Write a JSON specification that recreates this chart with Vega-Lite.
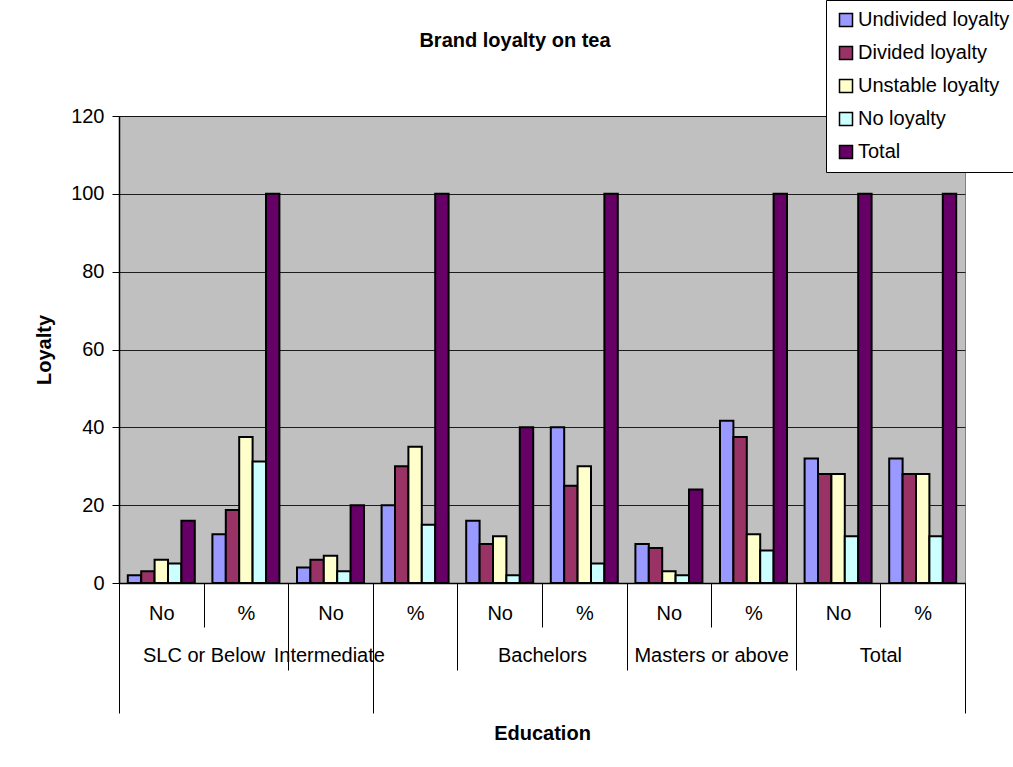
{
  "$schema": "https://vega.github.io/schema/vega-lite/v6.json",
  "width": 846,
  "height": 467,
  "autosize": {"type": "none"},
  "padding": {"left": 119, "top": 116, "right": 48, "bottom": 184},
  "background": "white",
  "title": {"text": "Brand loyalty on tea", "fontSize": 20, "fontWeight": "bold", "font": "Liberation Sans", "color": "#000", "anchor": "middle", "frame": "group", "dx": -27, "baseline": "alphabetic", "offset": -67},
  "data": {"values": [
    {"educ": "SLC or Below", "measure": "No", "grp": "SLC or Below|No", "series": "Undivided loyalty", "value": 2},
    {"educ": "SLC or Below", "measure": "No", "grp": "SLC or Below|No", "series": "Divided loyalty", "value": 3},
    {"educ": "SLC or Below", "measure": "No", "grp": "SLC or Below|No", "series": "Unstable loyalty", "value": 6},
    {"educ": "SLC or Below", "measure": "No", "grp": "SLC or Below|No", "series": "No loyalty", "value": 5},
    {"educ": "SLC or Below", "measure": "No", "grp": "SLC or Below|No", "series": "Total", "value": 16},
    {"educ": "SLC or Below", "measure": "%", "grp": "SLC or Below|%", "series": "Undivided loyalty", "value": 12.5},
    {"educ": "SLC or Below", "measure": "%", "grp": "SLC or Below|%", "series": "Divided loyalty", "value": 18.75},
    {"educ": "SLC or Below", "measure": "%", "grp": "SLC or Below|%", "series": "Unstable loyalty", "value": 37.5},
    {"educ": "SLC or Below", "measure": "%", "grp": "SLC or Below|%", "series": "No loyalty", "value": 31.25},
    {"educ": "SLC or Below", "measure": "%", "grp": "SLC or Below|%", "series": "Total", "value": 100},
    {"educ": "Intermediate", "measure": "No", "grp": "Intermediate|No", "series": "Undivided loyalty", "value": 4},
    {"educ": "Intermediate", "measure": "No", "grp": "Intermediate|No", "series": "Divided loyalty", "value": 6},
    {"educ": "Intermediate", "measure": "No", "grp": "Intermediate|No", "series": "Unstable loyalty", "value": 7},
    {"educ": "Intermediate", "measure": "No", "grp": "Intermediate|No", "series": "No loyalty", "value": 3},
    {"educ": "Intermediate", "measure": "No", "grp": "Intermediate|No", "series": "Total", "value": 20},
    {"educ": "Intermediate", "measure": "%", "grp": "Intermediate|%", "series": "Undivided loyalty", "value": 20},
    {"educ": "Intermediate", "measure": "%", "grp": "Intermediate|%", "series": "Divided loyalty", "value": 30},
    {"educ": "Intermediate", "measure": "%", "grp": "Intermediate|%", "series": "Unstable loyalty", "value": 35},
    {"educ": "Intermediate", "measure": "%", "grp": "Intermediate|%", "series": "No loyalty", "value": 15},
    {"educ": "Intermediate", "measure": "%", "grp": "Intermediate|%", "series": "Total", "value": 100},
    {"educ": "Bachelors", "measure": "No", "grp": "Bachelors|No", "series": "Undivided loyalty", "value": 16},
    {"educ": "Bachelors", "measure": "No", "grp": "Bachelors|No", "series": "Divided loyalty", "value": 10},
    {"educ": "Bachelors", "measure": "No", "grp": "Bachelors|No", "series": "Unstable loyalty", "value": 12},
    {"educ": "Bachelors", "measure": "No", "grp": "Bachelors|No", "series": "No loyalty", "value": 2},
    {"educ": "Bachelors", "measure": "No", "grp": "Bachelors|No", "series": "Total", "value": 40},
    {"educ": "Bachelors", "measure": "%", "grp": "Bachelors|%", "series": "Undivided loyalty", "value": 40},
    {"educ": "Bachelors", "measure": "%", "grp": "Bachelors|%", "series": "Divided loyalty", "value": 25},
    {"educ": "Bachelors", "measure": "%", "grp": "Bachelors|%", "series": "Unstable loyalty", "value": 30},
    {"educ": "Bachelors", "measure": "%", "grp": "Bachelors|%", "series": "No loyalty", "value": 5},
    {"educ": "Bachelors", "measure": "%", "grp": "Bachelors|%", "series": "Total", "value": 100},
    {"educ": "Masters or above", "measure": "No", "grp": "Masters or above|No", "series": "Undivided loyalty", "value": 10},
    {"educ": "Masters or above", "measure": "No", "grp": "Masters or above|No", "series": "Divided loyalty", "value": 9},
    {"educ": "Masters or above", "measure": "No", "grp": "Masters or above|No", "series": "Unstable loyalty", "value": 3},
    {"educ": "Masters or above", "measure": "No", "grp": "Masters or above|No", "series": "No loyalty", "value": 2},
    {"educ": "Masters or above", "measure": "No", "grp": "Masters or above|No", "series": "Total", "value": 24},
    {"educ": "Masters or above", "measure": "%", "grp": "Masters or above|%", "series": "Undivided loyalty", "value": 41.67},
    {"educ": "Masters or above", "measure": "%", "grp": "Masters or above|%", "series": "Divided loyalty", "value": 37.5},
    {"educ": "Masters or above", "measure": "%", "grp": "Masters or above|%", "series": "Unstable loyalty", "value": 12.5},
    {"educ": "Masters or above", "measure": "%", "grp": "Masters or above|%", "series": "No loyalty", "value": 8.33},
    {"educ": "Masters or above", "measure": "%", "grp": "Masters or above|%", "series": "Total", "value": 100},
    {"educ": "Total", "measure": "No", "grp": "Total|No", "series": "Undivided loyalty", "value": 32},
    {"educ": "Total", "measure": "No", "grp": "Total|No", "series": "Divided loyalty", "value": 28},
    {"educ": "Total", "measure": "No", "grp": "Total|No", "series": "Unstable loyalty", "value": 28},
    {"educ": "Total", "measure": "No", "grp": "Total|No", "series": "No loyalty", "value": 12},
    {"educ": "Total", "measure": "No", "grp": "Total|No", "series": "Total", "value": 100},
    {"educ": "Total", "measure": "%", "grp": "Total|%", "series": "Undivided loyalty", "value": 32},
    {"educ": "Total", "measure": "%", "grp": "Total|%", "series": "Divided loyalty", "value": 28},
    {"educ": "Total", "measure": "%", "grp": "Total|%", "series": "Unstable loyalty", "value": 28},
    {"educ": "Total", "measure": "%", "grp": "Total|%", "series": "No loyalty", "value": 12},
    {"educ": "Total", "measure": "%", "grp": "Total|%", "series": "Total", "value": 100}
  ]},
  "layer": [
    {
      "mark": {"type": "bar", "stroke": "#000000", "strokeWidth": 2},
      "encoding": {
        "x": {
          "field": "grp", "type": "nominal", "sort": null,
          "scale": {"paddingInner": 0, "paddingOuter": 0},
          "axis": {
            "title": null,
            "labelExpr": "split(datum.label, '|')[1]",
            "labelAngle": 0,
            "labelFontSize": 20,
            "labelOverlap": false,
            "labelBound": false,
            "tickBand": "extent",
            "tickColor": "#000000",
            "tickWidth": 1,
            "tickSize": {"condition": {"test": "datum.index === -1 || datum.value === 'Intermediate|No' || datum.value === 'Total|%'", "value": 130}, "value": 44},
            "labelPadding": {"condition": {"test": "datum.value === 'Intermediate|No' || datum.value === 'Total|%'", "value": -110}, "value": -24},
            "domainColor": "#000000",
            "domainWidth": 1.5
          }
        },
        "xOffset": {
          "field": "series", "type": "nominal",
          "sort": ["Undivided loyalty", "Divided loyalty", "Unstable loyalty", "No loyalty", "Total"],
          "scale": {"paddingInner": 0, "paddingOuter": 0.657}
        },
        "y": {
          "field": "value", "type": "quantitative",
          "scale": {"domain": [0, 120], "nice": false, "zero": true},
          "axis": {
            "title": "Loyalty",
            "titleFontSize": 20,
            "titleFontWeight": "bold",
            "titlePadding": 16,
            "values": [0, 20, 40, 60, 80, 100, 120],
            "labelFontSize": 20,
            "labelPadding": 8,
            "tickSize": 7,
            "tickColor": "#000000",
            "domainColor": "#000000",
            "domainWidth": 1.5,
            "grid": true,
            "gridColor": "#000000",
            "gridWidth": 1,
            "gridOpacity": 0.85
          }
        },
        "color": {
          "field": "series", "type": "nominal",
          "scale": {
            "domain": ["Undivided loyalty", "Divided loyalty", "Unstable loyalty", "No loyalty", "Total"],
            "range": ["#9999FF", "#993366", "#FFFFCC", "#CCFFFF", "#660066"]
          },
          "legend": {
            "title": null,
            "orient": "none",
            "legendX": 707,
            "legendY": -116,
            "symbolType": "square",
            "symbolSize": 169,
            "symbolStrokeColor": "#000000",
            "symbolStrokeWidth": 1.5,
            "symbolOpacity": 1,
            "labelFontSize": 20,
            "labelOffset": 2,
            "labelColor": "#000000",
            "rowPadding": 13,
            "padding": 10,
            "fillColor": "#FFFFFF",
            "strokeColor": "#000000"
          }
        }
      }
    },
    {
      "mark": {"type": "rule", "opacity": 0},
      "encoding": {
        "x": {
          "field": "educ", "type": "nominal", "sort": null,
          "scale": {"paddingInner": 0, "paddingOuter": 0},
          "axis": {
            "orient": "bottom",
            "title": "Education",
            "titleFontSize": 20,
            "titleFontWeight": "bold",
            "titlePadding": 53,
            "labelAngle": 0,
            "labelFontSize": 20,
            "labelOverlap": false,
            "labelBound": false,
            "labelOffset": {"condition": {"test": "datum.value === 'Intermediate'", "value": -44}, "value": 0},
            "tickBand": "extent",
            "tickSize": 87,
            "tickColor": "#000000",
            "tickWidth": 1,
            "labelPadding": -25,
            "domain": false
          }
        }
      }
    }
  ],
  "resolve": {"scale": {"x": "independent"}, "axis": {"x": "independent"}},
  "config": {
    "font": "Liberation Sans",
    "view": {"fill": "#C0C0C0", "stroke": "#808080", "strokeWidth": 1},
    "axis": {"labelColor": "#000000", "titleColor": "#000000", "labelFont": "Liberation Sans", "titleFont": "Liberation Sans"},
    "legend": {"labelFont": "Liberation Sans"}
  }
}
